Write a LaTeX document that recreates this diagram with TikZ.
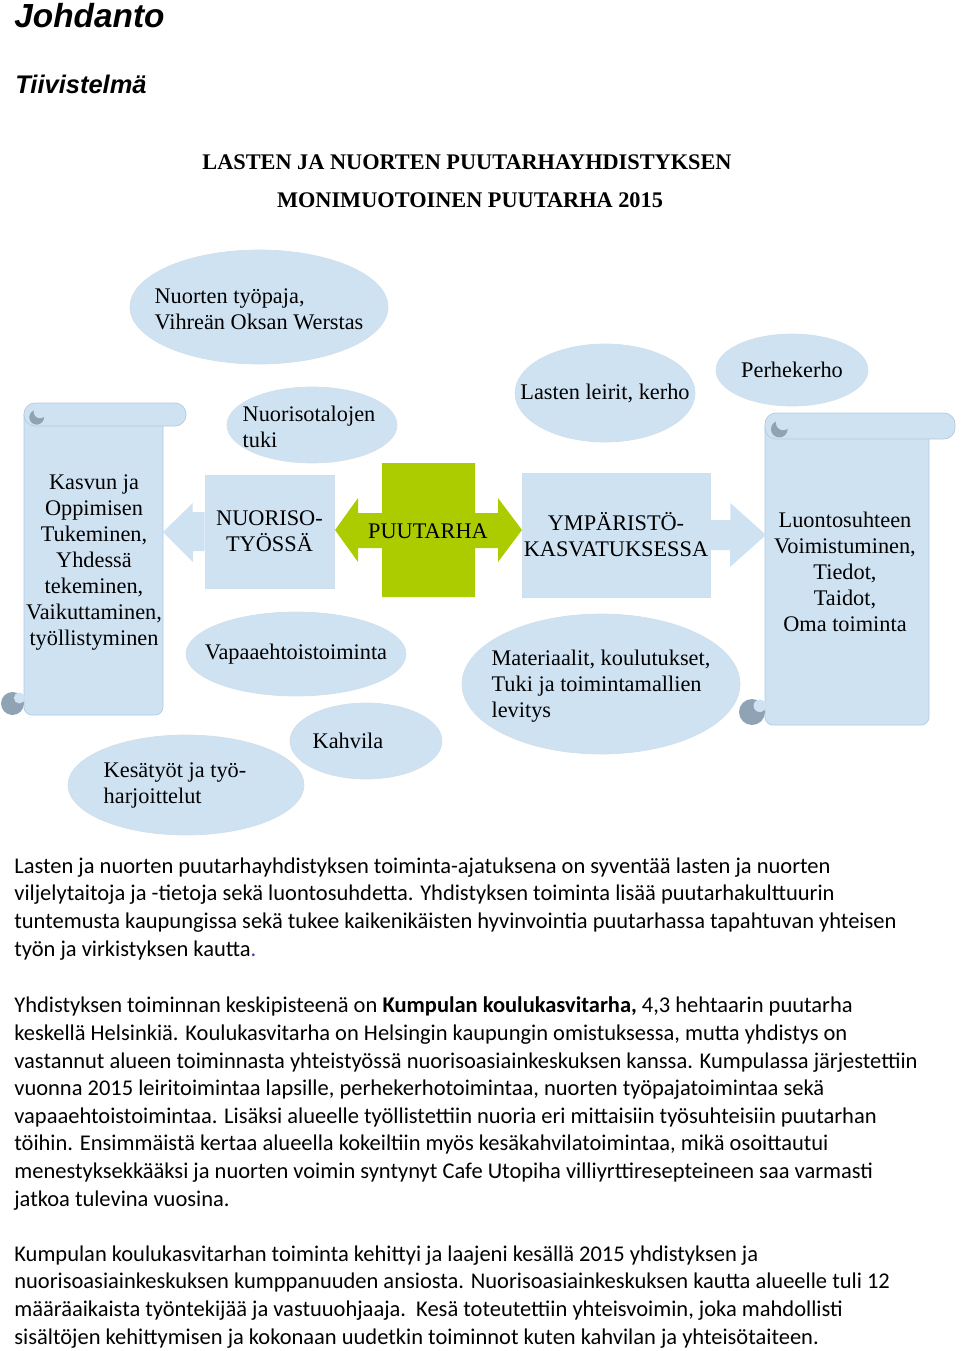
\documentclass[tikz,border=0pt]{standalone}
\usepackage{fontspec}
\setmainfont{Liberation Serif}
\newfontfamily\otsikkofont{Liberation Sans}
\newfontfamily\leipafont{Carlito}
\usetikzlibrary{shapes.geometric, calc}
\definecolor{kupla}{RGB}{207,226,242}
\definecolor{reuna}{RGB}{178,202,224}
\definecolor{kiemura}{RGB}{143,163,181}
\definecolor{vihrea}{RGB}{172,204,0}
\definecolor{piste}{RGB}{60,70,160}

\begin{document}
\begin{tikzpicture}[x=0.02cm, y=-0.02cm,
    pallo/.style={ellipse, fill=kupla, draw=reuna!60!white, inner sep=0pt},
    laatikko/.style={rectangle, fill=kupla, draw=reuna!60!white, inner sep=0pt},
    teksti/.style={font=\fontsize{12.7}{14.8}\selectfont, align=left, inner sep=0pt},
    keskella/.style={teksti, align=center},
    leipa/.style={font=\leipafont\fontsize{12.8}{15.7}\selectfont, align=left, anchor=base west, inner sep=0pt}]
    \useasboundingbox (0,0) rectangle (960,1351);
    % otsikot
    \node[anchor=base west, inner sep=0pt, font=\otsikkofont\bfseries\itshape\fontsize{19}{22}\selectfont] (johdanto) at (14,28) {Johdanto};
    \node[anchor=base west, inner sep=0pt, font=\otsikkofont\bfseries\itshape\fontsize{14.5}{17}\selectfont] (tiivistelma) at (15,94) {Tiivistelmä};
    \node[anchor=base, inner sep=0pt, font=\bfseries\fontsize{12.7}{15}\selectfont] (otsikko1) at (467,170) {LASTEN JA NUORTEN PUUTARHAYHDISTYKSEN};
    \node[anchor=base, inner sep=0pt, font=\bfseries\fontsize{12.7}{15}\selectfont] (otsikko2) at (470,208) {MONIMUOTOINEN PUUTARHA 2015};
    % kaaret (vasen ja oikea)
    \foreach \xa/\ya/\xb/\yb/\kk in {1/403/186/715/23, 739/413/955/725/26} {
        \filldraw[fill=kupla, draw=reuna] (\xa+\kk,\ya+\kk/2) -- (\xb-\kk,\ya+\kk/2)
            [rounded corners=0.16cm] -- (\xb-\kk,\yb) -- (\xa+\kk,\yb) [sharp corners] -- cycle;
        \filldraw[fill=kupla, draw=reuna, rounded corners=0.22cm] (\xa+\kk,\ya) rectangle (\xb,\ya+\kk);
        \fill[kiemura] (\xa+\kk*1.55,\ya+\kk*0.62) circle[radius=\kk*0.32];
        \fill[kupla] (\xa+\kk*1.7,\ya+\kk*0.38) circle[radius=\kk*0.28];
        \fill[kiemura] (\xa+\kk/2,\yb-\kk/2) circle[radius=\kk/2];
        \fill[kupla] (\xa+\kk*0.8,\yb-\kk*0.74) circle[radius=\kk*0.24];
    }
    \node[keskella] (kasvu) at (94,563) {Kasvun ja\\Oppimisen\\Tukeminen,\\Yhdessä\\tekeminen,\\Vaikuttaminen,\\työllistyminen};
    \node[keskella] (luonto) at (845,572) {Luontosuhteen\\Voimistuminen,\\Tiedot,\\Taidot,\\Oma toiminta};
    % laatikot
    \node[laatikko, minimum width=2.58cm, minimum height=2.26cm] (nuoriso) at (269.5,531.5) {};
    \node[keskella] at (nuoriso) {NUORISO-\\TYÖSSÄ};
    \node[laatikko, minimum width=3.76cm, minimum height=2.48cm] (ymparisto) at (616,535) {};
    \node[keskella] at (ymparisto) {YMPÄRISTÖ-\\KASVATUKSESSA};
    % nuolet
    \fill[kupla] ($(nuoriso.west)+(0,-19.5)$) -- ++(-12,0) -- ++(0,-9) -- (163,532)
        -- (193,562) -- ++(0,-11) -- ($(nuoriso.west)+(0,19.5)$) -- cycle;
    \fill[kupla] ($(ymparisto.east)+(0,-15)$) -- ++(20,0) -- ++(0,-17) -- (766,535)
        -- (730,567) -- ++(0,-17) -- ($(ymparisto.east)+(0,15)$) -- cycle;
    \fill[vihrea] (335,530) -- (358,498) -- (358,513) -- (382,513) -- (382,463) -- (475,463)
        -- (475,513) -- (498,513) -- (498,498) -- (522,530) -- (498,562) -- (498,548)
        -- (475,548) -- (475,597) -- (382,597) -- (382,548) -- (358,548) -- (358,562) -- cycle;
    \node[teksti] (puutarha) at (428,531) {PUUTARHA};
    % pallot
    \node[pallo, minimum width=5.16cm, minimum height=2.28cm] (tyopaja) at (259,307) {};
    \node[teksti] at ($(tyopaja)+(0,2)$) {Nuorten työpaja,\\Vihreän Oksan Werstas};
    \node[pallo, minimum width=3.4cm, minimum height=1.52cm] (nuorisotalo) at (312,425) {};
    \node[teksti] at ($(nuorisotalo)+(-3,2)$) {Nuorisotalojen\\tuki};
    \node[pallo, minimum width=3.6cm, minimum height=1.96cm] (leirit) at (605,393) {};
    \node[teksti] at (leirit) {Lasten leirit, kerho};
    \node[pallo, minimum width=3.04cm, minimum height=1.44cm] (perhe) at (792,370) {};
    \node[teksti] at (perhe) {Perhekerho};
    \node[pallo, minimum width=4.4cm, minimum height=1.68cm] (vapaa) at (296,654) {};
    \node[teksti] at (vapaa) {Vapaaehtoistoiminta};
    \node[pallo, minimum width=3.04cm, minimum height=1.52cm] (kahvila) at (366,741) {};
    \node[teksti] at ($(kahvila)+(-18,0)$) {Kahvila};
    \node[pallo, minimum width=4.72cm, minimum height=2cm] (kesa) at (186,785) {};
    \node[teksti] at ($(kesa)+(-11,0)$) {Kesätyöt ja työ-\\harjoittelut};
    \node[pallo, minimum width=5.56cm, minimum height=2.8cm] (materiaali) at (601,684) {};
    \node[teksti] at ($(materiaali)+(0,2)$) {Materiaalit, koulutukset,\\Tuki ja toimintamallien\\levitys};
    % leipateksti (base = viimeisen rivin perusviiva)
    \node[leipa] (kpl1) at (14,956) {Lasten ja nuorten puutarhayhdistyksen toiminta-ajatuksena on syventää lasten ja nuorten\\
        viljelytaitoja ja -tietoja sekä luontosuhdetta. Yhdistyksen toiminta lisää puutarhakulttuurin\\
        tuntemusta kaupungissa sekä tukee kaikenikäisten hyvinvointia puutarhassa tapahtuvan yhteisen\\
        työn ja virkistyksen kautta{\color{piste}.}};
    \node[leipa] (kpl2) at (14,1206) {Yhdistyksen toiminnan keskipisteenä on \textbf{Kumpulan koulukasvitarha,} 4,3 hehtaarin puutarha\\
        keskellä Helsinkiä. Koulukasvitarha on Helsingin kaupungin omistuksessa, mutta yhdistys on\\
        vastannut alueen toiminnasta yhteistyössä nuorisoasiainkeskuksen kanssa. Kumpulassa järjestettiin\\
        vuonna 2015 leiritoimintaa lapsille, perhekerhotoimintaa, nuorten työpajatoimintaa sekä\\
        vapaaehtoistoimintaa. Lisäksi alueelle työllistettiin nuoria eri mittaisiin työsuhteisiin puutarhan\\
        töihin. Ensimmäistä kertaa alueella kokeiltiin myös kesäkahvilatoimintaa, mikä osoittautui\\
        menestyksekkääksi ja nuorten voimin syntynyt Cafe Utopiha villiyrttiresepteineen saa varmasti\\
        jatkoa tulevina vuosina.};
    \node[leipa] (kpl3) at (14,1344) {Kumpulan koulukasvitarhan toiminta kehittyi ja laajeni kesällä 2015 yhdistyksen ja\\
        nuorisoasiainkeskuksen kumppanuuden ansiosta. Nuorisoasiainkeskuksen kautta alueelle tuli 12\\
        määräaikaista työntekijää ja vastuuohjaaja.\ \ Kesä toteutettiin yhteisvoimin, joka mahdollisti\\
        sisältöjen kehittymisen ja kokonaan uudetkin toiminnot kuten kahvilan ja yhteisötaiteen.};
\end{tikzpicture}
\end{document}
